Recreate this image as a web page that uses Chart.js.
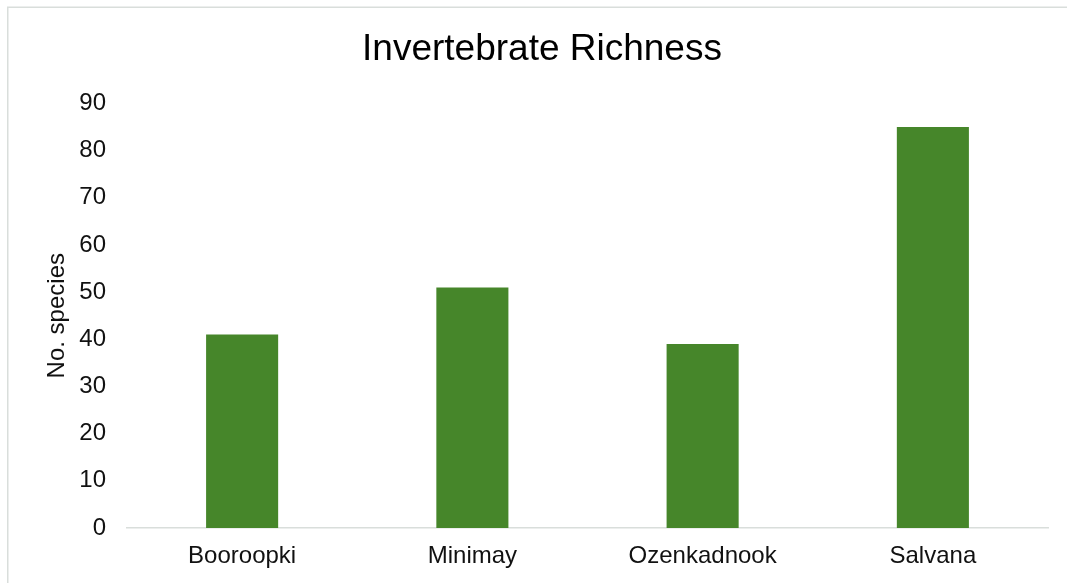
<!DOCTYPE html>
<html>
<head>
<meta charset="utf-8">
<script src="https://cdn.jsdelivr.net/npm/chart.js@4/dist/chart.umd.min.js"></script>
<style>
  html, body { margin: 0; padding: 0; background: #ffffff; }
  #wrap { width: 1067px; height: 583px; position: relative; }
</style>
</head>
<body>
<div id="wrap"><canvas id="chart" width="1067" height="583"></canvas></div>
<script>
// Species richness per site
const sites = ['Booroopki', 'Minimay', 'Ozenkadnook', 'Salvana'];
const speciesCounts = [41, 51, 39, 85];
const yTicks = [0, 10, 20, 30, 40, 50, 60, 70, 80, 90];

const FONT = '"Liberation Sans", Arial, Helvetica, sans-serif';
const TEXT = '#111111';
const LINE = '#d9dedb';

// Thin frame along the top and left edges of the chart box
const framePlugin = {
  id: 'frame',
  beforeDraw(chart) {
    const ctx = chart.ctx;
    ctx.save();
    ctx.fillStyle = '#ffffff';
    ctx.fillRect(0, 0, chart.width, chart.height);
    ctx.strokeStyle = LINE;
    ctx.lineWidth = 1.5;
    ctx.beginPath();
    ctx.moveTo(7.75, chart.height + 2);
    ctx.lineTo(7.75, 7.25);
    ctx.lineTo(chart.width + 2, 7.25);
    ctx.stroke();
    ctx.restore();
  }
};

new Chart(document.getElementById('chart'), {
  type: 'bar',
  data: {
    labels: sites,
    datasets: [{
      label: 'No. species',
      data: speciesCounts,
      backgroundColor: '#46862a',
      borderWidth: 0,
      categoryPercentage: 1,
      barPercentage: 0.313
    }]
  },
  plugins: [framePlugin],
  options: {
    responsive: false,
    animation: false,
    events: [],
    layout: { padding: { left: 36, right: 19, top: 8, bottom: 0 } },
    plugins: {
      legend: { display: false },
      tooltip: { enabled: false },
      title: {
        display: true,
        text: 'Invertebrate Richness',
        color: '#000000',
        font: { family: FONT, size: 37, weight: 'normal' },
        padding: { top: 20, bottom: 31 }
      }
    },
    scales: {
      x: {
        grid: { display: false, drawTicks: false },
        border: { display: true, color: LINE, width: 1.5 },
        ticks: {
          color: TEXT,
          font: { family: FONT, size: 24 },
          padding: 14,
          maxRotation: 0
        },
        afterFit(scale) { scale.height = 55; }
      },
      y: {
        min: 0,
        max: 90,
        afterBuildTicks(scale) { scale.ticks = yTicks.map(v => ({ value: v })); },
        grid: { display: false, drawTicks: false },
        border: { display: false },
        ticks: {
          color: TEXT,
          font: { family: FONT, size: 24 },
          padding: 21
        },
        title: {
          display: true,
          text: 'No. species',
          color: TEXT,
          font: { family: FONT, size: 24 },
          padding: { top: 7, bottom: 0 }
        },
        afterFit(scale) { scale.width = 91; }
      }
    }
  }
});
</script>
</body>
</html>
